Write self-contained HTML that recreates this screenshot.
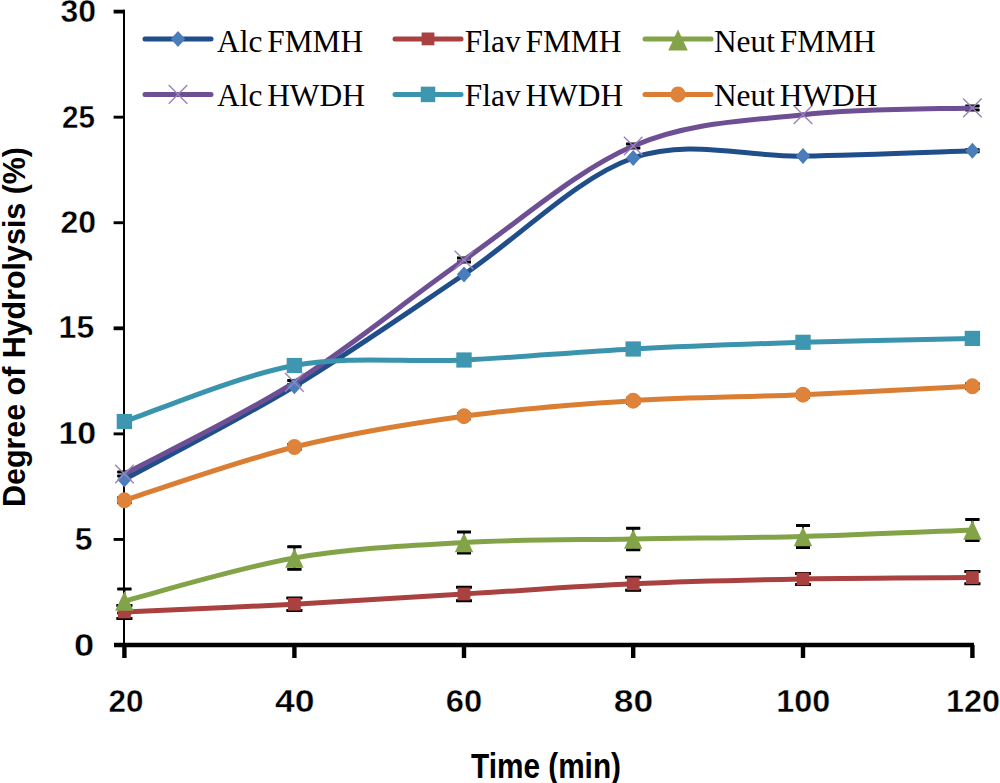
<!DOCTYPE html><html><head><meta charset="utf-8"><title>Degree of Hydrolysis</title><style>html,body{margin:0;padding:0;background:#fff;overflow:hidden;}svg{display:block;}</style></head><body>
<svg width="1000" height="783" viewBox="0 0 1000 783">
<rect width="1000" height="783" fill="#fff"/>
<path d="M124,9.7 V647" stroke="#000" stroke-width="2" fill="none"/>
<path d="M114,645 H974" stroke="#000" stroke-width="4.4" fill="none"/>
<path d="M113.6,539.43 H124.5" stroke="#000" stroke-width="2.9" fill="none"/>
<path d="M113.6,433.87 H124.5" stroke="#000" stroke-width="2.9" fill="none"/>
<path d="M113.6,328.31 H124.5" stroke="#000" stroke-width="3.8" fill="none"/>
<path d="M113.6,222.74 H124.5" stroke="#000" stroke-width="2.9" fill="none"/>
<path d="M113.6,117.17 H124.5" stroke="#000" stroke-width="2.9" fill="none"/>
<path d="M113.6,11.61 H124.5" stroke="#000" stroke-width="3.8" fill="none"/>
<path d="M124.40,645 V658" stroke="#000" stroke-width="4.4" fill="none"/>
<path d="M294.40,645 V658" stroke="#000" stroke-width="4.4" fill="none"/>
<path d="M464.00,645 V658" stroke="#000" stroke-width="4.4" fill="none"/>
<path d="M633.20,645 V658" stroke="#000" stroke-width="4.4" fill="none"/>
<path d="M803.00,645 V658" stroke="#000" stroke-width="4.4" fill="none"/>
<path d="M972.40,645 V658" stroke="#000" stroke-width="4.4" fill="none"/>
<text x="94.2" y="656.10" font-family="Liberation Sans, sans-serif" font-weight="bold" stroke="#fff" stroke-width="0.4" font-size="32" text-anchor="end" textLength="20.2" lengthAdjust="spacingAndGlyphs">0</text>
<text x="92.5" y="549.73" font-family="Liberation Sans, sans-serif" font-weight="bold" stroke="#fff" stroke-width="0.4" font-size="32" text-anchor="end" textLength="17.8" lengthAdjust="spacingAndGlyphs">5</text>
<text x="96.2" y="443.67" font-family="Liberation Sans, sans-serif" font-weight="bold" stroke="#fff" stroke-width="0.4" font-size="32" text-anchor="end" textLength="37.8" lengthAdjust="spacingAndGlyphs">10</text>
<text x="94.2" y="338.11" font-family="Liberation Sans, sans-serif" font-weight="bold" stroke="#fff" stroke-width="0.4" font-size="32" text-anchor="end" textLength="35.6" lengthAdjust="spacingAndGlyphs">15</text>
<text x="96.0" y="232.74" font-family="Liberation Sans, sans-serif" font-weight="bold" stroke="#fff" stroke-width="0.4" font-size="32" text-anchor="end" textLength="35.6" lengthAdjust="spacingAndGlyphs">20</text>
<text x="95.0" y="128.27" font-family="Liberation Sans, sans-serif" font-weight="bold" stroke="#fff" stroke-width="0.4" font-size="32" text-anchor="end" textLength="33.0" lengthAdjust="spacingAndGlyphs">25</text>
<text x="96.0" y="21.91" font-family="Liberation Sans, sans-serif" font-weight="bold" stroke="#fff" stroke-width="0.4" font-size="32" text-anchor="end" textLength="35.6" lengthAdjust="spacingAndGlyphs">30</text>
<text x="126.10" y="712.2" font-family="Liberation Sans, sans-serif" font-weight="bold" stroke="#fff" stroke-width="0.4" font-size="31.5" text-anchor="middle" textLength="35.0" lengthAdjust="spacingAndGlyphs">20</text>
<text x="294.80" y="712.2" font-family="Liberation Sans, sans-serif" font-weight="bold" stroke="#fff" stroke-width="0.4" font-size="31.5" text-anchor="middle" textLength="39.6" lengthAdjust="spacingAndGlyphs">40</text>
<text x="464.00" y="712.2" font-family="Liberation Sans, sans-serif" font-weight="bold" stroke="#fff" stroke-width="0.4" font-size="31.5" text-anchor="middle" textLength="36.4" lengthAdjust="spacingAndGlyphs">60</text>
<text x="633.50" y="712.2" font-family="Liberation Sans, sans-serif" font-weight="bold" stroke="#fff" stroke-width="0.4" font-size="31.5" text-anchor="middle" textLength="39.4" lengthAdjust="spacingAndGlyphs">80</text>
<text x="803.25" y="712.2" font-family="Liberation Sans, sans-serif" font-weight="bold" stroke="#fff" stroke-width="0.4" font-size="31.5" text-anchor="middle" textLength="54.0" lengthAdjust="spacingAndGlyphs">100</text>
<text x="973.00" y="712.2" font-family="Liberation Sans, sans-serif" font-weight="bold" stroke="#fff" stroke-width="0.4" font-size="31.5" text-anchor="middle" textLength="54.0" lengthAdjust="spacingAndGlyphs">120</text>
<text x="471" y="778" font-family="Liberation Sans, sans-serif" font-weight="bold" font-size="35" textLength="150" lengthAdjust="spacingAndGlyphs">Time (min)</text>
<text transform="translate(25.3,507) rotate(-90)" x="0" y="0" font-family="Liberation Sans, sans-serif" font-weight="bold" font-size="32" textLength="360" lengthAdjust="spacingAndGlyphs">Degree of Hydrolysis (%)</text>





<path d="M972.40,149.80 V151.80 M965.40,149.80 H979.40 M965.40,151.80 H979.40" stroke="#000" stroke-width="2" fill="none"/><path d="M965.40,149.80 H979.40 M965.40,151.80 H979.40" stroke="#000" stroke-width="3.0" fill="none"/>
<path d="M124.40,605.50 V618.50 M116.50,605.50 H132.30 M116.50,618.50 H132.30" stroke="#000" stroke-width="2" fill="none"/><path d="M116.50,605.50 H132.30 M116.50,618.50 H132.30" stroke="#000" stroke-width="3.0" fill="none"/>
<path d="M294.40,598.00 V610.40 M286.50,598.00 H302.30 M286.50,610.40 H302.30" stroke="#000" stroke-width="2" fill="none"/><path d="M286.50,598.00 H302.30 M286.50,610.40 H302.30" stroke="#000" stroke-width="3.0" fill="none"/>
<path d="M464.00,587.20 V600.80 M456.10,587.20 H471.90 M456.10,600.80 H471.90" stroke="#000" stroke-width="2" fill="none"/><path d="M456.10,587.20 H471.90 M456.10,600.80 H471.90" stroke="#000" stroke-width="3.0" fill="none"/>
<path d="M633.20,577.35 V590.25 M625.30,577.35 H641.10 M625.30,590.25 H641.10" stroke="#000" stroke-width="2" fill="none"/><path d="M625.30,577.35 H641.10 M625.30,590.25 H641.10" stroke="#000" stroke-width="3.0" fill="none"/>
<path d="M803.00,573.50 V584.50 M795.10,573.50 H810.90 M795.10,584.50 H810.90" stroke="#000" stroke-width="2" fill="none"/><path d="M795.10,573.50 H810.90 M795.10,584.50 H810.90" stroke="#000" stroke-width="3.0" fill="none"/>
<path d="M972.40,571.40 V583.80 M964.50,571.40 H980.30 M964.50,583.80 H980.30" stroke="#000" stroke-width="2" fill="none"/><path d="M964.50,571.40 H980.30 M964.50,583.80 H980.30" stroke="#000" stroke-width="3.0" fill="none"/>
<path d="M124.40,589.00 V613.00 M117.40,589.00 H131.40 M117.40,613.00 H131.40" stroke="#000" stroke-width="2" fill="none"/><path d="M117.40,589.00 H131.40 M117.40,613.00 H131.40" stroke="#000" stroke-width="3.0" fill="none"/>
<path d="M294.40,546.70 V569.30 M287.40,546.70 H301.40 M287.40,569.30 H301.40" stroke="#000" stroke-width="2" fill="none"/><path d="M287.40,546.70 H301.40 M287.40,569.30 H301.40" stroke="#000" stroke-width="3.0" fill="none"/>
<path d="M464.00,532.00 V553.00 M457.00,532.00 H471.00 M457.00,553.00 H471.00" stroke="#000" stroke-width="2" fill="none"/><path d="M457.00,532.00 H471.00 M457.00,553.00 H471.00" stroke="#000" stroke-width="3.0" fill="none"/>
<path d="M633.20,528.20 V549.80 M626.20,528.20 H640.20 M626.20,549.80 H640.20" stroke="#000" stroke-width="2" fill="none"/><path d="M626.20,528.20 H640.20 M626.20,549.80 H640.20" stroke="#000" stroke-width="3.0" fill="none"/>
<path d="M803.00,525.50 V547.50 M796.00,525.50 H810.00 M796.00,547.50 H810.00" stroke="#000" stroke-width="2" fill="none"/><path d="M796.00,525.50 H810.00 M796.00,547.50 H810.00" stroke="#000" stroke-width="3.0" fill="none"/>
<path d="M972.40,519.50 V540.50 M965.40,519.50 H979.40 M965.40,540.50 H979.40" stroke="#000" stroke-width="2" fill="none"/><path d="M965.40,519.50 H979.40 M965.40,540.50 H979.40" stroke="#000" stroke-width="3.0" fill="none"/>
<path d="M124.40,472.00 V476.00 M117.40,472.00 H131.40 M117.40,476.00 H131.40" stroke="#000" stroke-width="2" fill="none"/><path d="M117.40,472.00 H131.40 M117.40,476.00 H131.40" stroke="#000" stroke-width="3.0" fill="none"/>
<path d="M294.40,380.40 V384.40 M287.40,380.40 H301.40 M287.40,384.40 H301.40" stroke="#000" stroke-width="2" fill="none"/><path d="M287.40,380.40 H301.40 M287.40,384.40 H301.40" stroke="#000" stroke-width="3.0" fill="none"/>
<path d="M464.00,258.00 V262.00 M457.00,258.00 H471.00 M457.00,262.00 H471.00" stroke="#000" stroke-width="2" fill="none"/><path d="M457.00,258.00 H471.00 M457.00,262.00 H471.00" stroke="#000" stroke-width="3.0" fill="none"/>
<path d="M633.20,144.00 V148.00 M626.20,144.00 H640.20 M626.20,148.00 H640.20" stroke="#000" stroke-width="2" fill="none"/><path d="M626.20,144.00 H640.20 M626.20,148.00 H640.20" stroke="#000" stroke-width="3.0" fill="none"/>

<path d="M972.40,105.90 V109.90 M965.40,105.90 H979.40 M965.40,109.90 H979.40" stroke="#000" stroke-width="2" fill="none"/><path d="M965.40,105.90 H979.40 M965.40,109.90 H979.40" stroke="#000" stroke-width="3.0" fill="none"/>






<path d="M124.40,497.80 V502.80 M117.40,497.80 H131.40 M117.40,502.80 H131.40" stroke="#000" stroke-width="2" fill="none"/><path d="M117.40,497.80 H131.40 M117.40,502.80 H131.40" stroke="#000" stroke-width="3.0" fill="none"/>
<path d="M294.40,444.50 V449.50 M287.40,444.50 H301.40 M287.40,449.50 H301.40" stroke="#000" stroke-width="2" fill="none"/><path d="M287.40,444.50 H301.40 M287.40,449.50 H301.40" stroke="#000" stroke-width="3.0" fill="none"/>
<path d="M464.00,413.70 V418.70 M457.00,413.70 H471.00 M457.00,418.70 H471.00" stroke="#000" stroke-width="2" fill="none"/><path d="M457.00,413.70 H471.00 M457.00,418.70 H471.00" stroke="#000" stroke-width="3.0" fill="none"/>
<path d="M633.20,398.20 V403.20 M626.20,398.20 H640.20 M626.20,403.20 H640.20" stroke="#000" stroke-width="2" fill="none"/><path d="M626.20,398.20 H640.20 M626.20,403.20 H640.20" stroke="#000" stroke-width="3.0" fill="none"/>
<path d="M803.00,392.20 V397.20 M796.00,392.20 H810.00 M796.00,397.20 H810.00" stroke="#000" stroke-width="2" fill="none"/><path d="M796.00,392.20 H810.00 M796.00,397.20 H810.00" stroke="#000" stroke-width="3.0" fill="none"/>
<path d="M972.40,383.80 V388.80 M965.40,383.80 H979.40 M965.40,388.80 H979.40" stroke="#000" stroke-width="2" fill="none"/><path d="M965.40,383.80 H979.40 M965.40,388.80 H979.40" stroke="#000" stroke-width="3.0" fill="none"/>
<path d="M124.40,479.50 C152.73,463.97 237.80,420.47 294.40,386.30 C351.00,352.13 407.53,312.55 464.00,274.50 C520.47,236.45 576.70,177.73 633.20,158.00 C689.70,138.27 746.47,157.30 803.00,156.10 C859.53,154.90 944.17,151.68 972.40,150.80" stroke="#1f4e8a" stroke-width="5.0" fill="none" stroke-linecap="round" stroke-linejoin="round"/>
<path d="M124.40,612.00 C152.73,610.70 237.80,607.20 294.40,604.20 C351.00,601.20 407.53,597.40 464.00,594.00 C520.47,590.60 576.70,586.30 633.20,583.80 C689.70,581.30 746.47,580.03 803.00,579.00 C859.53,577.97 944.17,577.83 972.40,577.60" stroke="#a8413f" stroke-width="5.0" fill="none" stroke-linecap="round" stroke-linejoin="round"/>
<path d="M124.40,601.00 C152.73,593.83 237.80,567.75 294.40,558.00 C351.00,548.25 407.53,545.67 464.00,542.50 C520.47,539.33 576.70,540.00 633.20,539.00 C689.70,538.00 746.47,538.00 803.00,536.50 C859.53,535.00 944.17,531.08 972.40,530.00" stroke="#82a348" stroke-width="5.0" fill="none" stroke-linecap="round" stroke-linejoin="round"/>
<path d="M124.40,474.00 C152.73,458.73 237.80,418.07 294.40,382.40 C351.00,346.73 407.53,299.40 464.00,260.00 C520.47,220.60 576.70,170.22 633.20,146.00 C689.70,121.78 746.47,121.05 803.00,114.70 C859.53,108.35 944.17,109.03 972.40,107.90" stroke="#6e4f94" stroke-width="5.0" fill="none" stroke-linecap="round" stroke-linejoin="round"/>
<path d="M124.40,421.50 C152.73,412.17 237.80,375.75 294.40,365.50 C351.00,355.25 407.53,362.75 464.00,360.00 C520.47,357.25 576.70,351.95 633.20,349.00 C689.70,346.05 746.47,344.07 803.00,342.30 C859.53,340.53 944.17,339.05 972.40,338.40" stroke="#3b94ae" stroke-width="5.0" fill="none" stroke-linecap="round" stroke-linejoin="round"/>
<path d="M124.40,500.30 C152.73,491.42 237.80,461.02 294.40,447.00 C351.00,432.98 407.53,423.92 464.00,416.20 C520.47,408.48 576.70,404.28 633.20,400.70 C689.70,397.12 746.47,397.10 803.00,394.70 C859.53,392.30 944.17,387.70 972.40,386.30" stroke="#da7e33" stroke-width="5.0" fill="none" stroke-linecap="round" stroke-linejoin="round"/>
<path d="M124.40,471.50 L131.60,479.50 L124.40,487.50 L117.20,479.50 Z" fill="#4a7ebb"/>
<path d="M294.40,378.30 L301.60,386.30 L294.40,394.30 L287.20,386.30 Z" fill="#4a7ebb"/>
<path d="M464.00,266.50 L471.20,274.50 L464.00,282.50 L456.80,274.50 Z" fill="#4a7ebb"/>
<path d="M633.20,150.00 L640.40,158.00 L633.20,166.00 L626.00,158.00 Z" fill="#4a7ebb"/>
<path d="M803.00,148.10 L810.20,156.10 L803.00,164.10 L795.80,156.10 Z" fill="#4a7ebb"/>
<path d="M972.40,142.80 L979.60,150.80 L972.40,158.80 L965.20,150.80 Z" fill="#4a7ebb"/>
<rect x="118.00" y="605.60" width="12.80" height="12.80" fill="#a8413f"/>
<rect x="288.00" y="597.80" width="12.80" height="12.80" fill="#a8413f"/>
<rect x="457.60" y="587.60" width="12.80" height="12.80" fill="#a8413f"/>
<rect x="626.80" y="577.40" width="12.80" height="12.80" fill="#a8413f"/>
<rect x="796.60" y="572.60" width="12.80" height="12.80" fill="#a8413f"/>
<rect x="966.00" y="571.20" width="12.80" height="12.80" fill="#a8413f"/>
<path d="M124.40,591.30 L133.60,610.70 L115.20,610.70 Z" fill="#82a348"/>
<path d="M294.40,548.30 L303.60,567.70 L285.20,567.70 Z" fill="#82a348"/>
<path d="M464.00,532.80 L473.20,552.20 L454.80,552.20 Z" fill="#82a348"/>
<path d="M633.20,529.30 L642.40,548.70 L624.00,548.70 Z" fill="#82a348"/>
<path d="M803.00,526.80 L812.20,546.20 L793.80,546.20 Z" fill="#82a348"/>
<path d="M972.40,520.30 L981.60,539.70 L963.20,539.70 Z" fill="#82a348"/>
<path d="M115.10,464.70 L133.70,483.30 M115.10,483.30 L133.70,464.70" stroke="#9883ba" stroke-width="1.4" fill="none"/>
<path d="M285.10,373.10 L303.70,391.70 M285.10,391.70 L303.70,373.10" stroke="#9883ba" stroke-width="1.4" fill="none"/>
<path d="M454.70,250.70 L473.30,269.30 M454.70,269.30 L473.30,250.70" stroke="#9883ba" stroke-width="1.4" fill="none"/>
<path d="M623.90,136.70 L642.50,155.30 M623.90,155.30 L642.50,136.70" stroke="#9883ba" stroke-width="1.4" fill="none"/>
<path d="M793.70,105.40 L812.30,124.00 M793.70,124.00 L812.30,105.40" stroke="#9883ba" stroke-width="1.4" fill="none"/>
<path d="M963.10,98.60 L981.70,117.20 M963.10,117.20 L981.70,98.60" stroke="#9883ba" stroke-width="1.4" fill="none"/>
<rect x="116.70" y="413.90" width="15.40" height="15.20" fill="#3e96b0"/>
<rect x="286.70" y="357.90" width="15.40" height="15.20" fill="#3e96b0"/>
<rect x="456.30" y="352.40" width="15.40" height="15.20" fill="#3e96b0"/>
<rect x="625.50" y="341.40" width="15.40" height="15.20" fill="#3e96b0"/>
<rect x="795.30" y="334.70" width="15.40" height="15.20" fill="#3e96b0"/>
<rect x="964.70" y="330.80" width="15.40" height="15.20" fill="#3e96b0"/>
<ellipse cx="124.40" cy="500.30" rx="7.6" ry="8.0" fill="#e0833a"/>
<ellipse cx="294.40" cy="447.00" rx="7.6" ry="8.0" fill="#e0833a"/>
<ellipse cx="464.00" cy="416.20" rx="7.6" ry="8.0" fill="#e0833a"/>
<ellipse cx="633.20" cy="400.70" rx="7.6" ry="8.0" fill="#e0833a"/>
<ellipse cx="803.00" cy="394.70" rx="7.6" ry="8.0" fill="#e0833a"/>
<ellipse cx="972.40" cy="386.30" rx="7.6" ry="8.0" fill="#e0833a"/>
<path d="M145.00,38.90 H211.00" stroke="#1f4e8a" stroke-width="5.0" stroke-linecap="round"/>
<path d="M178.00,30.90 L185.20,38.90 L178.00,46.90 L170.80,38.90 Z" fill="#4a7ebb"/>
<text x="217.00" y="52.00" font-family="Liberation Serif, serif" font-size="31.4" word-spacing="-3">Alc FMMH</text>
<path d="M395.00,38.90 H461.00" stroke="#a8413f" stroke-width="5.0" stroke-linecap="round"/>
<rect x="421.60" y="32.50" width="12.80" height="12.80" fill="#a8413f"/>
<text x="464.80" y="52.00" font-family="Liberation Serif, serif" font-size="31.4" word-spacing="-3">Flav FMMH</text>
<path d="M645.00,38.90 H711.00" stroke="#82a348" stroke-width="5.0" stroke-linecap="round"/>
<path d="M678.00,29.60 L687.75,50.60 L668.25,50.60 Z" fill="#82a348"/>
<text x="713.90" y="52.00" font-family="Liberation Serif, serif" font-size="31.4" word-spacing="-3">Neut FMMH</text>
<path d="M145.00,94.40 H211.00" stroke="#6e4f94" stroke-width="5.0" stroke-linecap="round"/>
<path d="M168.70,85.10 L187.30,103.70 M168.70,103.70 L187.30,85.10" stroke="#9883ba" stroke-width="1.4" fill="none"/>
<text x="217.00" y="105.50" font-family="Liberation Serif, serif" font-size="31.4" word-spacing="-3">Alc HWDH</text>
<path d="M395.00,94.40 H461.00" stroke="#3b94ae" stroke-width="5.0" stroke-linecap="round"/>
<rect x="420.75" y="86.65" width="14.50" height="15.50" fill="#3e96b0"/>
<text x="464.80" y="105.50" font-family="Liberation Serif, serif" font-size="31.4" word-spacing="-3">Flav HWDH</text>
<path d="M645.00,94.40 H711.00" stroke="#da7e33" stroke-width="5.0" stroke-linecap="round"/>
<ellipse cx="678.00" cy="94.40" rx="7.6" ry="8.0" fill="#e0833a"/>
<text x="713.90" y="105.50" font-family="Liberation Serif, serif" font-size="31.4" word-spacing="-3">Neut HWDH</text>
</svg></body></html>
